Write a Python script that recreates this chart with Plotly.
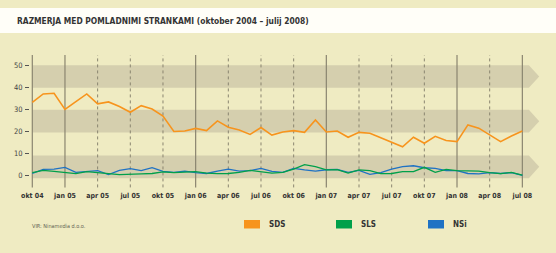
import plotly.graph_objects as go

months = list(range(46))  # okt 2004 .. jul 2008, monthly
sds = [33.2, 37.0, 37.3, 30.0, 33.5, 37.0, 32.5, 33.4, 31.3, 28.7, 31.7, 30.2,
       27.0, 20.0, 20.2, 21.4, 20.4, 24.8, 21.9, 20.7, 18.7, 21.8, 18.4, 19.8,
       20.4, 19.6, 25.2, 19.8, 20.2, 17.4, 19.6, 19.2, 17.2, 15.3, 13.1, 17.4,
       14.7, 17.8, 15.9, 15.4, 23.0, 21.5, 18.4, 15.4, 18.0, 20.2]
sls = [1.4, 2.4, 2.0, 1.4, 0.9, 1.8, 1.5, 0.9, 0.5, 0.5, 0.8, 1.0,
       1.7, 1.4, 1.7, 1.8, 1.2, 0.9, 1.0, 1.5, 2.4, 1.8, 1.2, 1.5,
       3.0, 5.0, 4.1, 2.6, 2.7, 1.2, 2.6, 2.3, 0.9, 1.0, 1.8, 1.8,
       3.8, 1.5, 2.9, 2.3, 2.3, 2.1, 1.4, 0.9, 1.5, 0.3]
nsi = [1.0, 2.9, 3.0, 3.8, 1.5, 1.8, 2.3, 0.5, 2.4, 3.2, 2.3, 3.6,
       2.0, 1.5, 2.1, 1.4, 1.0, 2.1, 3.0, 2.1, 2.3, 3.3, 2.0, 1.5,
       3.3, 2.6, 2.1, 2.7, 2.9, 1.5, 2.4, 0.6, 1.4, 3.0, 4.1, 4.5,
       3.6, 3.3, 2.3, 2.3, 1.0, 0.8, 1.4, 1.0, 1.4, 0.2]
tick_vals = list(range(0, 46, 3))
tick_text = ["okt 04", "jan 05", "apr 05", "jul 05", "okt 05", "jan 06", "apr 06", "jul 06",
             "okt 06", "jan 07", "apr 07", "jul 07", "okt 07", "jan 08", "apr 08", "jul 08"]
y_ticks = [0, 10, 20, 30, 40, 50]
series_names = ["SDS", "SLS", "NSi"]
series_colors = ["#f7941d", "#00a04a", "#1f72c4"]
title = "RAZMERJA MED POMLADNIMI STRANKAMI (oktober 2004 – julij 2008)"
source = "VIR: Ninamedia d.o.o."

W, H = 556, 253
BG = "#efebc2"
BAND = "#d5cfae"
COND = "DejaVu Sans Condensed, Liberation Sans Narrow, Arial Narrow, sans-serif"

L, R, T, B = 30, 11, 50, 63
pw, ph = W - L - R, H - T - B


def px(xp):
    return (xp - L) / pw


def py(yp):
    return (H - B - yp) / ph


fig = go.Figure()
shapes = []
annotations = []

# title band (white strip)
shapes.append(dict(type="rect", xref="paper", yref="paper", x0=px(-5), x1=px(W + 5),
                   y0=py(33), y1=py(8), fillcolor="#fffef8", line=dict(width=0)))

# arrow bands
x0, xr, xt = 0.0, 45.6, 46.55
for lo, hi in [(-1.1, 9.1), (19.5, 29.8), (39.8, 50.0)]:
    mid = (lo + hi) / 2
    shapes.append(dict(type="path", xref="x", yref="y", layer="below",
                       path=f"M {x0},{lo} L {xr},{lo} L {xt},{mid} L {xr},{hi} L {x0},{hi} Z",
                       fillcolor=BAND, line=dict(width=0)))

# quarter lines
for i, v in enumerate(tick_vals):
    solid = tick_text[i].startswith("jan") or i == 0 or i == len(tick_vals) - 1
    shapes.append(dict(type="line", xref="x", yref="y", layer="below",
                       x0=v, x1=v, y0=-5.3, y1=54.6,
                       line=dict(color="#8a8570",
                                 width=1.2 if solid else 1,
                                 dash="solid" if solid else "dot")))

# series (SDS on top)
order = [2, 1, 0]
data = [sds, sls, nsi]
for k in order:
    fig.add_trace(go.Scatter(x=months, y=data[k], mode="lines", name=series_names[k],
                             line=dict(color=series_colors[k], width=1.6 if k == 0 else 1.3),
                             showlegend=False, hoverinfo="skip"))

# legend (custom swatches)
sw_x = [244, 336, 428]
for name, col, sx in zip(series_names, series_colors, sw_x):
    shapes.append(dict(type="rect", xref="paper", yref="paper",
                       x0=px(sx), x1=px(sx + 16), y0=py(228.5), y1=py(220),
                       fillcolor=col, line=dict(width=0)))
    annotations.append(dict(xref="paper", yref="paper", x=px(sx + 23), y=py(224.5),
                            text=name, showarrow=False, xanchor="left", yanchor="middle",
                            font=dict(family=COND, size=8, color="#333333", weight="bold")))

annotations.append(dict(xref="paper", yref="paper", x=px(15), y=py(20.5), text=title,
                        showarrow=False, xanchor="left", yanchor="middle",
                        font=dict(family=COND, size=8.4, color="#333333", weight="bold")))
annotations.append(dict(xref="paper", yref="paper", x=px(30), y=py(226), text=source,
                        showarrow=False, xanchor="left", yanchor="middle",
                        font=dict(family=COND, size=5.5, color="#666655")))

span = pw / 10.89
x_start = (L - 32.3) / 10.89
ppu = 2.21
y_top = (175.7 - T) / ppu
y_bot = -((H - B) - 175.7) / ppu

fig.update_layout(
    width=W, height=H,
    margin=dict(l=L, r=R, t=T, b=B, pad=0),
    paper_bgcolor=BG, plot_bgcolor=BG,
    shapes=shapes, annotations=annotations,
    xaxis=dict(range=[x_start, x_start + span], showgrid=False, zeroline=False,
               showline=False, ticks="", tickvals=tick_vals, ticktext=tick_text,
               tickfont=dict(family=COND, size=7, color="#333333", weight="bold"),
               fixedrange=True),
    yaxis=dict(range=[y_bot, y_top], showgrid=False, zeroline=False, showline=False,
               ticks="outside", ticklen=4, tickcolor="#555555", tickwidth=1,
               tickvals=y_ticks, ticklabelstandoff=1,
               tickfont=dict(family=COND, size=7.5, color="#444444"),
               fixedrange=True),
    showlegend=False,
)
fig.write_html("out.html", config={"displayModeBar": False})
